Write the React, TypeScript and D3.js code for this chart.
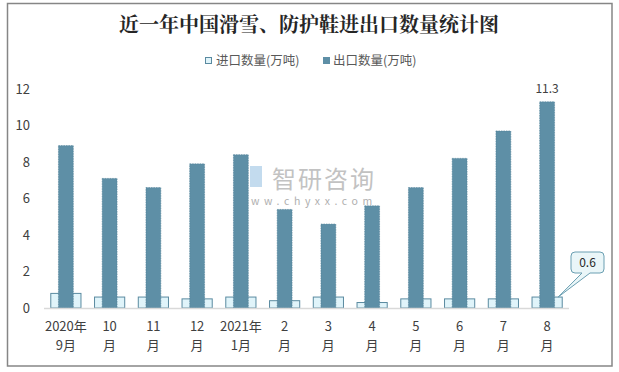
import React from "react";
import * as d3 from "d3";

const months = ["2020年\n9月", "10\n月", "11\n月", "12\n月", "2021年\n1月", "2\n月", "3\n月", "4\n月", "5\n月", "6\n月", "7\n月", "8\n月"];
const imports = [0.8, 0.6, 0.6, 0.5, 0.6, 0.4, 0.6, 0.3, 0.5, 0.5, 0.5, 0.6];
const exportsQ = [8.9, 7.1, 6.6, 7.9, 8.4, 5.4, 4.6, 5.6, 6.6, 8.2, 9.7, 11.3];
const yTicks = [0, 2, 4, 6, 8, 10, 12];

const W = 619;
const H = 372;
const font = "'Noto Sans CJK SC', 'Noto Sans', sans-serif";

const App = () => {
  const x = d3.scaleBand<string>().domain(months).range([44, 569]).padding(0);
  const y = d3.scaleLinear().domain([0, 12]).range([308, 89]);
  const bw = x.bandwidth();
  const wideW = bw * 0.69;
  const narrowW = bw * 0.34;

  const last = months.length - 1;
  const lastCx = x(months[last])! + bw / 2;
  const lastImpTop = y(imports[last]);

  // callout box for the last import value
  const bx = 571, by = 252, bwid = 33, bh = 21;

  return (
    <div style={{ width: W, height: H, position: "absolute", left: 0, top: 0 }}>
      <svg width={W} height={H} style={{ display: "block" }} fontFamily={font}>
        <rect x={0} y={0} width={W} height={H} fill="#fff" />
        <rect x={7.5} y={3.5} width={604.5} height={362.5} fill="#fff" stroke="#868686" strokeWidth={1.5} />

        <text x={309} y={32} textAnchor="middle" fontSize={20} fontWeight="bold" fill="#262626"
          fontFamily="'Noto Serif CJK SC', 'Noto Sans CJK SC', serif">
          近一年中国滑雪、防护鞋进出口数量统计图
        </text>

        {/* legend */}
        <rect x={205.5} y={57.5} width={6} height={6} fill="#e0f4fa" stroke="#5a8aa0" />
        <text x={216} y={65} fontSize={12.5} fill="#595959">进口数量(万吨)</text>
        <rect x={323} y={57} width={7} height={7} fill="#5e8fa6" />
        <text x={333} y={65} fontSize={12.5} fill="#595959">出口数量(万吨)</text>

        {/* y ticks */}
        {yTicks.map(t => (
          <text key={t} x={30} y={y(t)} dy="0.35em" textAnchor="end" fontSize={13} fill="#404040">{t}</text>
        ))}

        {/* watermark */}
        <g opacity={0.6}>
          <rect x={235} y={166} width={12} height={9} fill="#5f86a8" />
          <rect x={235} y={177} width={8} height={10} fill="#5f86a8" />
          <rect x={250} y={166} width={12} height={21} fill="#9cc4e4" />
          <text x={272} y={188} fontSize={24} fill="#9a9a9a" letterSpacing={2}>智研咨询</text>
          <text x={238} y={205} fontSize={10.5} fill="#7a7a7a" letterSpacing={4.6}>www.chyxx.com</text>
        </g>

        {/* bars */}
        {months.map((m, i) => {
          const cx = x(m)! + bw / 2;
          return (
            <g key={m}>
              <rect x={cx - wideW / 2} y={y(imports[i])} width={wideW} height={y(0) - y(imports[i])}
                fill="#e0f4fa" stroke="#5a8aa0" strokeWidth={1} />
              <rect x={cx - narrowW / 2} y={y(exportsQ[i])} width={narrowW} height={y(0) - y(exportsQ[i])}
                fill="#5e8fa6" stroke="#4f7f97" strokeWidth={0.6} strokeDasharray="1.5 1" />
            </g>
          );
        })}

        <line x1={44} x2={569} y1={308.5} y2={308.5} stroke="#d9d9d9" strokeWidth={1.5} />

        {/* x labels */}
        {months.map(m => {
          const cx = x(m)! + bw / 2;
          const [a, b] = m.split("\n");
          return (
            <g key={m} fontSize={13} fill="#404040" textAnchor="middle">
              <text x={cx} y={331}>{a}</text>
              <text x={cx} y={350}>{b}</text>
            </g>
          );
        })}

        {/* data labels */}
        <text x={lastCx} y={93} textAnchor="middle" fontSize={12} fill="#404040">{exportsQ[last]}</text>

        <path
          d={`M${bx + 4},${by} H${bx + bwid - 4} Q${bx + bwid},${by} ${bx + bwid},${by + 4} V${by + bh - 4} Q${bx + bwid},${by + bh} ${bx + bwid - 4},${by + bh} H${bx + 19} L${lastCx + 11},${lastImpTop} L${bx + 11},${by + bh} H${bx + 4} Q${bx},${by + bh} ${bx},${by + bh - 4} V${by + 4} Q${bx},${by} ${bx + 4},${by} Z`}
          fill="#eaf6f8" stroke="#6a9fb2" strokeWidth={1} />
        <text x={bx + bwid / 2} y={by + bh / 2} dy="0.35em" textAnchor="middle" fontSize={12} fill="#262626">{imports[last]}</text>
      </svg>
    </div>
  );
};

export default App;
